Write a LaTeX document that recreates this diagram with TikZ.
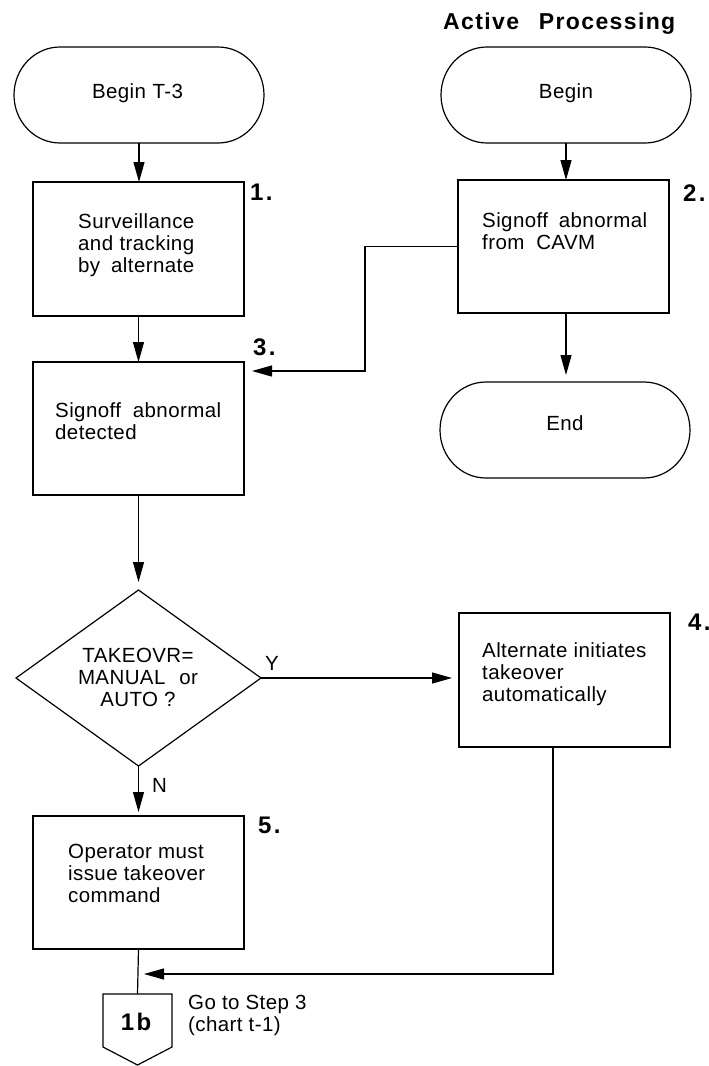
\documentclass[tikz,border=0pt]{standalone}
\usepackage{fontspec}
\setmainfont{Liberation Sans}[LetterSpace=2]
\newfontfamily\wideboldfont{Liberation Sans}[LetterSpace=10]
\newfontfamily\titlefont{Liberation Sans}[LetterSpace=6]
\usetikzlibrary{arrows.meta,shapes.geometric,calc}

\newcommand\bodyfont{\fontsize{20.5}{22}\selectfont}
\newcommand\stepfont{\wideboldfont\bfseries\fontsize{24}{26}\selectfont}

\tikzset{
  line/.style={line width=1.2pt, draw=black},
  arr/.style={line, -{Triangle[length=20pt,width=11pt]}},
  box/.style={line, rectangle, inner sep=0pt, outer sep=0pt, minimum width=211pt},
  shape holder/.style={inner sep=0pt, outer sep=0pt, minimum width=250pt, minimum height=96pt},
  % multi-line text: the base anchor sits on the last line
  txt/.style={font=\bodyfont, inner sep=0pt, anchor=base west, align=left},
  ctxt/.style={font=\bodyfont, inner sep=0pt, anchor=base, align=center},
  stepno/.style={font=\stepfont, inner sep=0pt, anchor=base west},
}

\begin{document}
\begin{tikzpicture}[x=1pt, y=-1pt]
\useasboundingbox (0,0) rectangle (709,1066);

% title
\node[inner sep=0pt, anchor=base west, font=\titlefont\bfseries\fontsize{23}{25}\selectfont] (title) at (443,29) {Active\hspace{12pt} Processing};

% terminals
\node[shape holder] (t1) at (139,95) {};
\node[shape holder] (t2) at (566,95) {};
\node[shape holder] (t3) at (565,430) {};
\foreach \n in {t1,t2,t3}
  \draw[line] ([xshift=46pt]\n.north west) -- ([xshift=-46pt]\n.north east)
    arc[start angle=90, end angle=-90, x radius=46pt, y radius=48pt]
    -- ([xshift=46pt]\n.south west)
    arc[start angle=270, end angle=90, x radius=46pt, y radius=48pt] -- cycle;
\node[ctxt] (t1txt) at (137.5,98) {\makebox[91pt][s]{Begin T-3}};
\node[ctxt] (t2txt) at (566,98) {Begin};
\node[ctxt] (t3txt) at (565,430) {End};

% process boxes
\node[box, minimum height=134pt] (s1) at (138.5,249) {};
\node[box, minimum height=133pt] (s2) at (563.5,246.5) {};
\node[box, minimum height=133pt] (s3) at (138.5,428.5) {};
\node[box, minimum height=134pt] (s4) at (564.5,680) {};
\node[box, minimum height=133pt] (s5) at (138.5,882.5) {};

% decision
\node[diamond, line, inner sep=0pt, outer sep=0pt, minimum width=245pt, minimum height=176pt] (d) at (138.5,678) {};

% off-page connector
\node[inner sep=0pt, outer sep=0pt, minimum width=69pt, minimum height=53pt] (c1b) at (137.5,1020.5) {};
\draw[line] (c1b.south west) -- (c1b.north west) -- (c1b.north east) -- (c1b.south east)
  -- ($(c1b.south)+(0,18)$) -- cycle;
\node[inner sep=0pt, anchor=base, font=\wideboldfont\bfseries\fontsize{24}{26}\selectfont] (c1btxt) at (136,1030) {1b};

% texts in boxes
\node[txt] (s1txt) at (78,272) {Surveillance\\\makebox[116pt][s]{and tracking}\\\makebox[116pt][s]{by alternate}};
\node[txt] (s2txt) at (482,249) {\makebox[165pt][s]{Signoff abnormal}\\\makebox[113pt][s]{from CAVM}};
\node[txt] (s3txt) at (55,439) {\makebox[166pt][s]{Signoff abnormal}\\detected};
\node[txt] (s4txt) at (482,701) {Alternate initiates\\takeover\\automatically};
\node[txt] (s5txt) at (68,902) {Operator must\\issue takeover\\command};
\node[ctxt] (dtxt) at (138,706) {TAKEOVR=\\\makebox[120pt][s]{MANUAL or}\\AUTO ?};
\node[txt] (gotxt) at (188,1031) {Go to Step 3\\(chart t-1)};

% step numbers
\node[stepno] (n1) at (250,200) {1.};
\node[stepno] (n2) at (683,201) {2.};
\node[stepno] (n3) at (253,355) {3.};
\node[stepno] (n4) at (688,630) {4.};
\node[stepno] (n5) at (258,833) {5.};

% branch labels
\node[txt] (ylab) at (265,670) {Y};
\node[txt] (nlab) at (152,792) {N};

% connectors
\coordinate (s3in) at ($(s3.north east)+(8,9)$);
\coordinate (bend) at (365,0);
\coordinate (merge) at (144,974);
\coordinate (s4out) at ($(s4.south)+(-11.5,0)$);

\draw[arr] (t1.south) -- (t1.south |- s1.north);
\draw[arr] (t2.south) -- (t2.south |- s2.north);
\draw[arr] (s1.south) -- (s3.north);
\draw[arr, shorten >=7pt] (t2.south |- s2.south) -- (t2.south |- t3.north);
\draw[arr] (s2.west) -- (s2.west -| bend) |- (s3in);
\draw[arr, shorten >=8pt] (s3.south) -- (d.north);
\draw[arr, shorten >=7pt] (d.east) -- (d.east -| s4.west);
\draw[arr, shorten >=4pt] (d.south) -- (s5.north);
\draw[line] (s5.south) -- (c1b.north);
\draw[arr] (s4out) |- (merge);
\end{tikzpicture}
\end{document}
